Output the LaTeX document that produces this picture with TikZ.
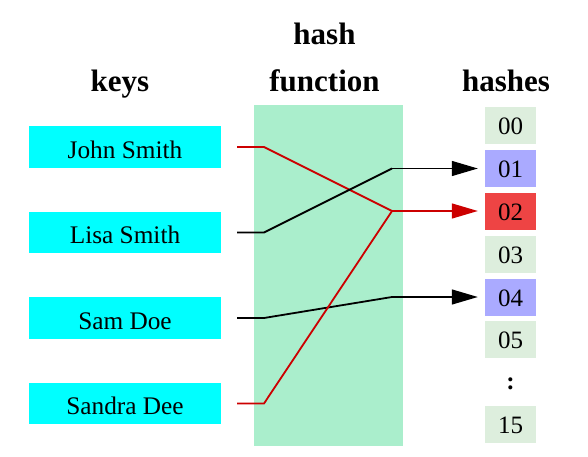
\documentclass[tikz,border=0pt]{standalone}
\usepackage{fontspec}
\setmainfont{Liberation Serif}
\usetikzlibrary{arrows.meta}
\definecolor{keycyan}{HTML}{00FFFF}
\definecolor{hashgreen}{HTML}{AAEECC}
\definecolor{bucket}{HTML}{DDEEDD}
\definecolor{bucketblue}{HTML}{AAAAFF}
\definecolor{bucketred}{HTML}{EE4444}
\definecolor{linered}{HTML}{CC0000}
\begin{document}
\begin{tikzpicture}[x=1pt,y=-1pt,
  keybox/.style={fill=keycyan, minimum width=192pt, minimum height=41.5pt, inner sep=0pt, text height=22pt, text depth=0pt, font=\fontsize{25.3}{25}\selectfont},
  bucketbox/.style={fill=bucket, minimum width=51pt, minimum height=37pt, inner sep=0pt, text height=18.2pt, text depth=0pt, font=\fontsize{25}{25}\selectfont},
  heading/.style={font=\fontsize{31}{31}\selectfont\bfseries, anchor=base, inner sep=0pt},
  link/.style={line width=1.8pt, line join=round, shorten <=16pt},
  tipline/.style={line width=1.3pt, shorten >=7pt, -{Triangle[length=26pt,width=15pt]}}
]
\useasboundingbox (0,0) rectangle (588,457);

% headings
\node[heading] (hkeys) at (120,92) {keys};
\node[heading] (hhash) at (324.5,45) {hash};
\node[heading] (hfunc) at (324.5,92) {function};
\node[heading] (hhashes) at (506,92) {hashes};

% hash function band
\node[fill=hashgreen, minimum width=149pt, minimum height=341pt, inner sep=0pt] (hf) at (328.5,275.5) {};

% keys
\node[keybox] (k1) at (125,147) {John Smith};
\node[keybox] (k2) at (125,232.5) {Lisa Smith};
\node[keybox] (k3) at (125,318) {Sam Doe};
\node[keybox] (k4) at (125,403.5) {Sandra Dee};

% buckets
\node[bucketbox] (b0) at (510.5,125.2) {00};
\node[bucketbox, fill=bucketblue] (b1) at (510.5,168.5) {01};
\node[bucketbox, fill=bucketred] (b2) at (510.5,211) {02};
\node[bucketbox] (b3) at (510.5,254) {03};
\node[bucketbox, fill=bucketblue] (b4) at (510.5,297) {04};
\node[bucketbox] (b5) at (510.5,339.5) {05};
\node[font=\fontsize{25}{25}\selectfont\bfseries, inner sep=0pt] (bdots) at (510.5,384) {:};
\node[bucketbox] (b15) at (510.5,424.5) {15};

% bend points
\coordinate (a1) at (264,147);
\coordinate (a2) at (264,232.5);
\coordinate (a3) at (264,318);
\coordinate (a4) at (264,403.5);
\coordinate (m1) at (392,168.5);
\coordinate (m2) at (392,211);
\coordinate (m4) at (392,297);

% connectors
\draw[link, linered] (k1.east) -- (a1) -- (m2);
\draw[link, black] (k2.east) -- (a2) -- (m1);
\draw[link, black] (k3.east) -- (a3) -- (m4);
\draw[link, linered] (k4.east) -- (a4) -- (m2);
\draw[tipline, black] (m1) -- (b1.west);
\draw[tipline, linered] (m2) -- (b2.west);
\draw[tipline, black] (m4) -- (b4.west);
\end{tikzpicture}
\end{document}
